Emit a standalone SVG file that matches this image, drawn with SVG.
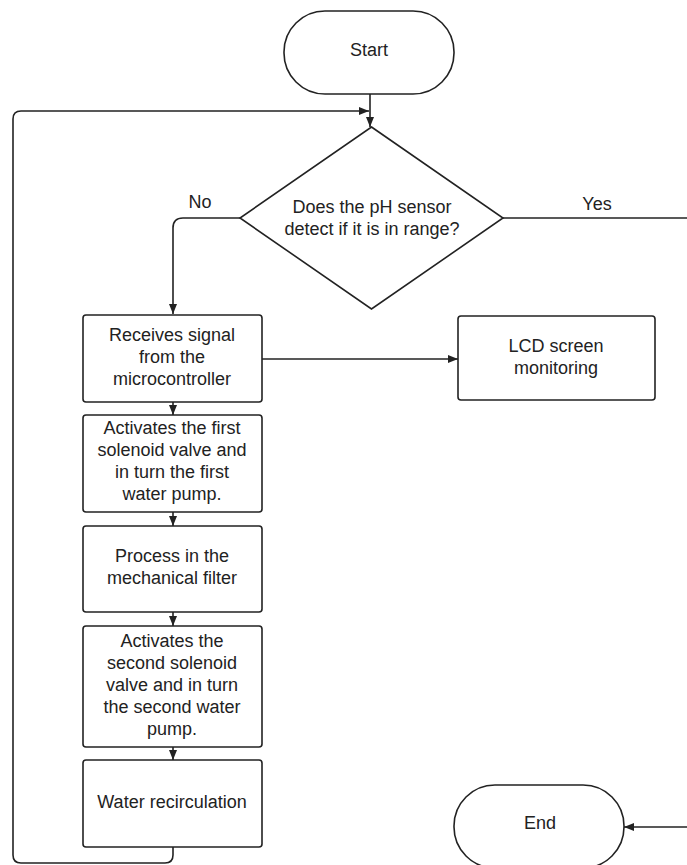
<svg xmlns="http://www.w3.org/2000/svg" width="687" height="865" viewBox="0 0 687 865">
  <defs>
    <style>
      .shape { fill: #ffffff; stroke: #222222; stroke-width: 1.6; }
      .edge { fill: none; stroke: #222222; stroke-width: 1.6; }
      text { font-family: "Liberation Sans", Arial, sans-serif; font-size: 18px; fill: #222222; text-anchor: middle; }
    </style>
    <marker id="arrow" markerUnits="userSpaceOnUse" markerWidth="10" markerHeight="10" viewBox="0 0 10 10" refX="10" refY="5" orient="auto">
      <path d="M0,1 L10,5 L0,9 Z" fill="#222222"/>
    </marker>
  </defs>
  <rect width="687" height="865" fill="#ffffff"/>

  <g id="connectors">
    <path class="edge" d="M370,94 L370,127" marker-end="url(#arrow)"/>
    <path class="edge" d="M173,847 L173,855 Q173,863 165,863 L21,863 Q13,863 13,855 L13,119 Q13,111 21,111 L369,111" marker-end="url(#arrow)"/>
    <path class="edge" d="M240,218 L183,218 Q173,218 173,228 L173,314" marker-end="url(#arrow)"/>
    <path class="edge" d="M503,218 L687,218"/>
    <path class="edge" d="M262,359 L458,359" marker-end="url(#arrow)"/>
    <path class="edge" d="M173,402 L173,415" marker-end="url(#arrow)"/>
    <path class="edge" d="M173,512 L173,526" marker-end="url(#arrow)"/>
    <path class="edge" d="M173,612 L173,626" marker-end="url(#arrow)"/>
    <path class="edge" d="M173,747 L173,760" marker-end="url(#arrow)"/>
    <path class="edge" d="M687,827 L624,827" marker-end="url(#arrow)"/>
    <text x="200" y="208">No</text>
    <text x="597" y="210">Yes</text>
  </g>

  <g id="start">
    <rect class="shape" x="284" y="11" width="170" height="83" rx="41" ry="41"/>
    <text x="369" y="56">Start</text>
  </g>

  <g id="decision">
    <polygon class="shape" points="371.5,127 503,218 371.5,309 240,218"/>
    <text x="372" y="213">Does the pH sensor</text>
    <text x="372" y="235">detect if it is in range?</text>
  </g>

  <g id="receive">
    <rect class="shape" x="83" y="315" width="179" height="87" rx="3"/>
    <text x="172" y="341">Receives signal</text>
    <text x="172" y="363">from the</text>
    <text x="172" y="385">microcontroller</text>
  </g>

  <g id="lcd">
    <rect class="shape" x="458" y="316" width="197" height="84" rx="3"/>
    <text x="556" y="352">LCD screen</text>
    <text x="556" y="374">monitoring</text>
  </g>

  <g id="first-valve">
    <rect class="shape" x="83" y="415" width="179" height="97" rx="3"/>
    <text x="172" y="434">Activates the first</text>
    <text x="172" y="456">solenoid valve and</text>
    <text x="172" y="478">in turn the first</text>
    <text x="172" y="500">water pump.</text>
  </g>

  <g id="filter">
    <rect class="shape" x="83" y="526" width="179" height="86" rx="3"/>
    <text x="172" y="562">Process in the</text>
    <text x="172" y="584">mechanical filter</text>
  </g>

  <g id="second-valve">
    <rect class="shape" x="83" y="626" width="179" height="121" rx="3"/>
    <text x="172" y="647">Activates the</text>
    <text x="172" y="669">second solenoid</text>
    <text x="172" y="691">valve and in turn</text>
    <text x="172" y="713">the second water</text>
    <text x="172" y="735">pump.</text>
  </g>

  <g id="recirculation">
    <rect class="shape" x="83" y="760" width="179" height="87" rx="3"/>
    <text x="172" y="808">Water recirculation</text>
  </g>

  <g id="end">
    <rect class="shape" x="454" y="785" width="170" height="83" rx="41" ry="41"/>
    <text x="540" y="829">End</text>
  </g>
</svg>
